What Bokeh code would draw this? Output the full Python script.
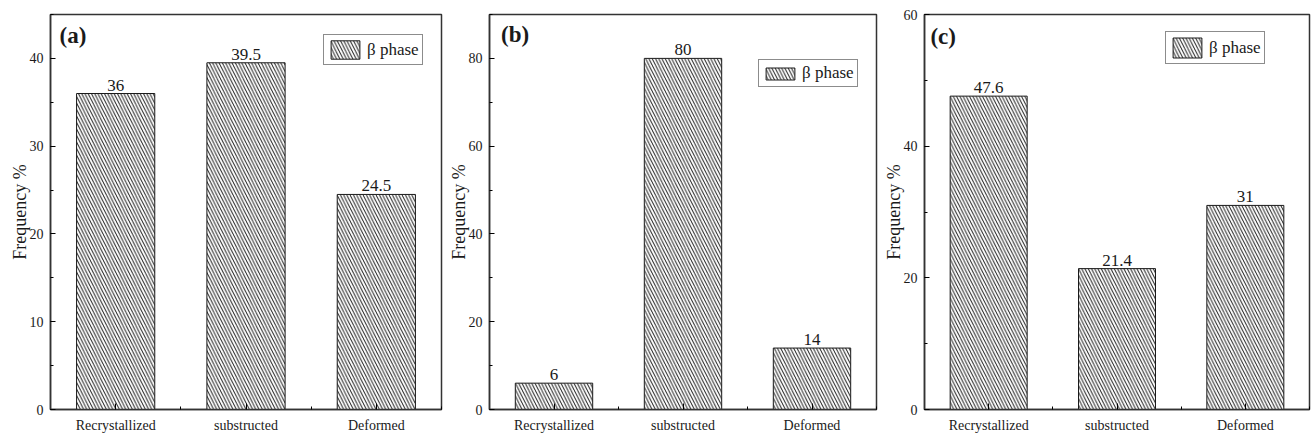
from bokeh.plotting import figure
from bokeh.layouts import row
from bokeh.models import (ColumnDataSource, FixedTicker, Legend, LegendItem,
                          Label, LabelSet, Range1d, SingleIntervalTicker)
from bokeh.embed import file_html
from bokeh.resources import INLINE

# Grain-type frequencies of the beta phase, three conditions
categories = ["Recrystallized", "substructed", "Deformed"]
freq_a = [36, 39.5, 24.5]
freq_b = [6, 80, 14]
freq_c = [47.6, 21.4, 31]
panel_tags = ["(a)", "(b)", "(c)"]
y_limits = [45, 90, 60]
y_steps = [10, 20, 20]
legend_text = "β phase"
y_title = "Frequency %"

SERIF = "Liberation Serif"
INK = "#1a1a1a"


def make_panel(values, tag, ymax, step, width, borders, legend_xy, tag_xy,
               swatch_h=23):
    left, right, top, bottom = borders
    xs = list(range(1, len(categories) + 1))
    src = ColumnDataSource(dict(
        x=xs, top=values, label=[f"{v:g}" for v in values]))

    p = figure(width=width, height=440, output_backend="svg",
               toolbar_location=None,
               x_range=Range1d(0.5, len(categories) + 0.5),
               y_range=Range1d(0, ymax),
               min_border_left=left, min_border_right=right,
               min_border_top=top, min_border_bottom=bottom)
    p.grid.visible = False
    p.outline_line_color = "#333333"
    p.outline_line_width = 1.5
    p.background_fill_color = "white"
    p.border_fill_color = "white"

    bars = p.vbar(x="x", top="top", width=0.6, source=src,
                  fill_color="white", line_color=INK, line_width=1,
                  hatch_pattern="\\", hatch_color="#1f1f1f",
                  hatch_weight=1, hatch_scale=6.5)

    p.add_layout(LabelSet(x="x", y="top", text="label", source=src,
                          text_align="center", text_baseline="bottom",
                          y_offset=3, text_font=SERIF,
                          text_font_size="17px", text_color=INK))

    # x axis: categories at integer positions, minor ticks between
    xa = p.xaxis[0]
    xa.ticker = FixedTicker(ticks=xs,
                            minor_ticks=[x - 0.5 for x in xs] + [xs[-1] + 0.5])
    xa.major_label_overrides = {x: c for x, c in zip(xs, categories)}
    xa.major_label_text_font = SERIF
    xa.major_label_text_font_size = "14px"
    xa.major_label_text_color = INK
    xa.major_label_standoff = 8
    xa.major_tick_in = 6
    xa.major_tick_out = 0
    xa.minor_tick_in = 3
    xa.minor_tick_out = 0
    xa.axis_line_width = 1.5
    xa.axis_line_color = "#333333"

    ya = p.yaxis[0]
    ya.ticker = SingleIntervalTicker(interval=step, num_minor_ticks=2)
    ya.major_label_text_font = SERIF
    ya.major_label_text_font_size = "14px"
    ya.major_label_text_color = INK
    ya.major_label_standoff = 7
    ya.major_tick_in = 5
    ya.major_tick_out = 0
    ya.minor_tick_in = 3
    ya.minor_tick_out = 0
    ya.axis_line_width = 1.5
    ya.axis_line_color = "#333333"
    ya.axis_label = y_title
    ya.axis_label_text_font = SERIF
    ya.axis_label_text_font_style = "normal"
    ya.axis_label_text_font_size = "18px"
    ya.axis_label_text_color = INK
    ya.axis_label_standoff = -3

    legend = Legend(items=[LegendItem(label=legend_text, renderers=[bars])],
                    location=legend_xy, orientation="vertical",
                    glyph_width=36, glyph_height=swatch_h, label_standoff=4,
                    label_text_font=SERIF, label_text_font_size="17px",
                    label_text_color=INK, label_height=16,
                    padding=3, spacing=0, margin=0,
                    border_line_color=INK, border_line_width=1,
                    background_fill_color="white", background_fill_alpha=1)
    p.add_layout(legend)

    p.add_layout(Label(x=tag_xy[0], y=tag_xy[1], text=tag,
                       text_font=SERIF, text_font_style="bold",
                       text_font_size="23px", text_color=INK,
                       text_baseline="top", text_align="left"))
    return p


pa = make_panel(freq_a, panel_tags[0], y_limits[0], y_steps[0], 445,
                (50, 4, 14, 29), (273, 344), (0.57, 44.0))
pb = make_panel(freq_b, panel_tags[1], y_limits[1], y_steps[1], 435,
                (38, 4, 13, 31), (269, 322), (0.59, 88.2), swatch_h=15)
pc = make_panel(freq_c, panel_tags[2], y_limits[2], y_steps[2], 432,
                (39, 3, 12, 28), (241, 345), (0.546, 58.6), swatch_h=25)

layout = row(pa, pb, pc)
open("out.html", "w").write(file_html(layout, INLINE))
